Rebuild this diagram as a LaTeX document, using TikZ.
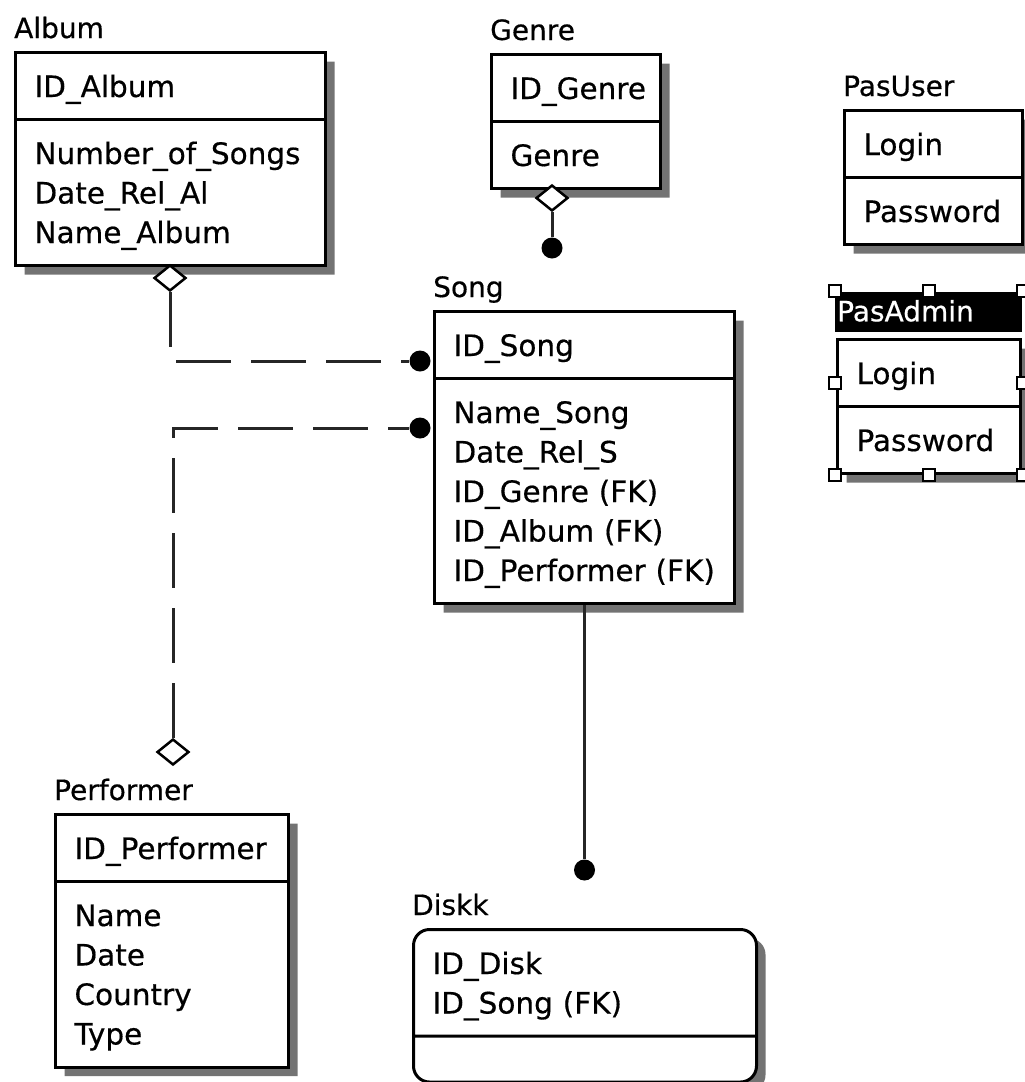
\documentclass[tikz,border=0pt]{standalone}
\usepackage{fontspec}
\setmainfont[FakeBold=0.5]{DejaVu Sans}
\usetikzlibrary{shapes.multipart,shapes.geometric,shadows,fit}
\newcommand{\rowstrut}{\rule[-8pt]{0pt}{38pt}}

\begin{document}
\begin{tikzpicture}[
    x=1pt, y=-1pt,
    entity/.style={rectangle split, rectangle split parts=2, draw, line width=3pt, fill=white,
        anchor=north west, inner xsep=19pt, inner ysep=13pt, align=left,
        font=\fontsize{29.5}{39.5}\selectfont,
        drop shadow={shadow xshift=9pt, shadow yshift=-9pt, fill=black!55, opacity=1, draw=none}},
    title/.style={anchor=base west, inner sep=0pt, yshift=13pt, font=\fontsize{28}{34}\selectfont},
    opendia/.style={diamond, draw, line width=2.5pt, fill=white, minimum width=32pt, minimum height=26pt, inner sep=0pt},
    dot/.style={circle, fill=black, minimum size=21pt, inner sep=0pt},
    handle/.style={rectangle, draw, fill=white, line width=2pt, minimum size=12pt, inner sep=0pt},
    relline/.style={line width=3pt, black!85},
    reldash/.style={relline, dash pattern=on 55pt off 20pt}
]
    \useasboundingbox (0,0) rectangle (1025,1082);

    % 1. Entities (top row)
    \node[entity, text width=272pt, label={[title]north west:Album}] (album) at (14,51)
        {\rowstrut ID\_Album \nodepart{two}\rowstrut Number\_of\_Songs\\\rowstrut Date\_Rel\_Al\\\rowstrut Name\_Album};
    \node[entity, text width=131pt, label={[title]north west:Genre}] (genre) at (490,53)
        {\rowstrut ID\_Genre \nodepart{two}\rowstrut Genre};
    \node[entity, text width=140pt, label={[title]north west:PasUser}] (pasuser) at (843,109)
        {\rowstrut Login \nodepart{two}\rowstrut Password};

    % PasAdmin is shown selected (black title bar + handles)
    \node[entity, text width=145pt, label={[name=admintitle, anchor=south west, fill=black, text=white,
            inner xsep=2pt, inner ysep=3.5pt, text height=26pt, text depth=7pt, text width=183pt,
            align=left, xshift=-1pt, yshift=6pt, font=\fontsize{28}{34}\selectfont]north west:PasAdmin}] (pasadmin) at (836,338)
        {\rowstrut Login \nodepart{two}\rowstrut Password};
    \node[fit=(pasadmin)(admintitle), inner sep=0pt] (adminsel) {};
    \foreach \a in {north west,north,north east,west,east,south west,south,south east}
        \node[handle] (handle \a) at (adminsel.\a) {};

    % 2. Middle
    \node[entity, text width=262pt, label={[title]north west:Song}] (song) at (433,310)
        {\rowstrut ID\_Song \nodepart{two}\rowstrut Name\_Song\\\rowstrut Date\_Rel\_S\\\rowstrut ID\_Genre (FK)\\\rowstrut ID\_Album (FK)\\\rowstrut ID\_Performer (FK)};

    % 3. Bottom row
    \node[entity, text width=195pt, label={[title]north west:Performer}] (performer) at (54,813)
        {\rowstrut ID\_Performer \nodepart{two}\rowstrut Name\\\rowstrut Date\\\rowstrut Country\\\rowstrut Type};
    \node[entity, rounded corners=16pt, text width=305pt, label={[title]north west:Diskk}] (diskk) at (412,928)
        {\rowstrut ID\_Disk\\\rowstrut ID\_Song (FK) \nodepart{two}\rule{0pt}{17pt}};

    % Relationship ends
    \node[opendia] (albumdia) at (170,278) {};
    \node[dot] (albumdot) at (420,361) {};
    \node[opendia] (genredia) at (552,198) {};
    \node[dot] (genredot) at (552,248) {};
    \node[dot] (perfdot) at (420,428) {};
    \node[opendia] (perfdia) at (173,752) {};
    \node[dot] (diskdot) at (song.south |- 0,870) {};

    % Relationships
    \draw[reldash] (albumdia) |- (albumdot); % non-identifying
    \draw[reldash] (perfdia) |- (perfdot);
    \draw[relline] (genredia) -- (genredot);
    \draw[relline] (song) -- (diskdot);

\end{tikzpicture}
\end{document}
